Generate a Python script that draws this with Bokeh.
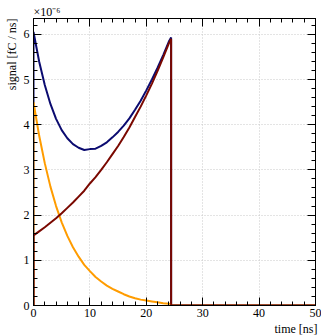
from bokeh.plotting import figure
from bokeh.models import Range1d, LinearAxis, SingleIntervalTicker, CustomLabelingPolicy, Title
from bokeh.embed import file_html
from bokeh.resources import INLINE

# values in units of 1e-6 fC/ns
time_ns = [0, 0, 1, 2, 3, 4, 5, 6, 7, 8, 9, 10, 11, 12, 13, 14, 15, 16, 17, 18,
           19, 20, 21, 22, 23, 24, 24.4, 24.4, 50]
fast_signal = [0, 4.50, 3.76, 3.15, 2.63, 2.20, 1.84, 1.54, 1.29, 1.08, 0.90, 0.76,
               0.63, 0.53, 0.44, 0.37, 0.31, 0.25, 0.20, 0.16, 0.13, 0.11, 0.09,
               0.07, 0.05, 0.04, 0.03, 0, 0]
slow_signal = [0, 1.55, 1.64, 1.73, 1.83, 1.93, 2.04, 2.16, 2.28, 2.41, 2.54, 2.70,
               2.84, 3.00, 3.17, 3.35, 3.53, 3.73, 3.94, 4.17, 4.40, 4.65, 4.91,
               5.19, 5.49, 5.80, 5.90, 0, 0]
total_signal = [0, 6.05, 5.40, 4.88, 4.46, 4.13, 3.88, 3.70, 3.57, 3.49, 3.44, 3.46,
                3.47, 3.53, 3.61, 3.72, 3.84, 3.98, 4.14, 4.33, 4.53, 4.76, 5.00,
                5.26, 5.54, 5.84, 5.93, 0, 0]

X_MAX = 50
Y_MAX = 6.35
FONT = "Liberation Serif"

p = figure(width=321, height=336, output_backend="svg", toolbar_location=None,
           x_range=Range1d(0, X_MAX), y_range=Range1d(0, Y_MAX),
           min_border_left=33, min_border_right=6, min_border_top=18,
           min_border_bottom=31, background_fill_color="white",
           border_fill_color="white")
p.outline_line_color = "black"
p.outline_line_width = 1

xt = SingleIntervalTicker(interval=10, num_minor_ticks=5)
yt = SingleIntervalTicker(interval=1, num_minor_ticks=5)

for ax in p.xaxis:
    ax.ticker = xt
for ax in p.yaxis:
    ax.ticker = yt

def style(ax, labels=True):
    ax.major_tick_in = 8
    ax.major_tick_out = 0
    ax.minor_tick_in = 4
    ax.minor_tick_out = 0
    ax.axis_line_color = "black"
    ax.major_tick_line_color = "black"
    ax.minor_tick_line_color = "black"
    if labels:
        ax.major_label_text_font = FONT
        ax.major_label_text_font_size = "12px"
        ax.major_label_text_color = "black"
        ax.major_label_standoff = 4
    else:
        ax.major_label_text_font_size = "0px"
        ax.major_label_standoff = 0
        ax.major_label_policy = CustomLabelingPolicy(code="return []")

xa = p.xaxis[0]
ya = p.yaxis[0]
style(xa)
style(ya)
ya.major_label_orientation = "horizontal"
xa.major_label_standoff = 3

top_axis = LinearAxis(ticker=xt)
right_axis = LinearAxis(ticker=yt)
style(top_axis, labels=False)
style(right_axis, labels=False)
p.add_layout(top_axis, "above")
p.add_layout(right_axis, "right")

def title(text, align, standoff=0, offset=0):
    return Title(text=text, align=align, standoff=standoff, offset=offset,
                 text_font=FONT, text_font_size="12px",
                 text_font_style="normal", text_color="black")

p.add_layout(title("time [ns]", "right", 0, -2), "below")
p.add_layout(title("signal [fC / ns]", "right", 3, 0), "left")
p.add_layout(title("×10⁻⁶", "left", 0, 0), "above")

p.xgrid.ticker = xt
p.ygrid.ticker = yt
for g in (p.xgrid, p.ygrid):
    g.grid_line_color = "#c8c8c8"
    g.grid_line_dash = "1 2"
    g.grid_line_width = 1

p.line(time_ns, total_signal, line_color="#0b0b70", line_width=2)
p.line(time_ns, fast_signal, line_color="#ff9c00", line_width=2)
p.line(time_ns, slow_signal, line_color="#7a0800", line_width=2)

open("out.html", "w").write(file_html(p, INLINE))
